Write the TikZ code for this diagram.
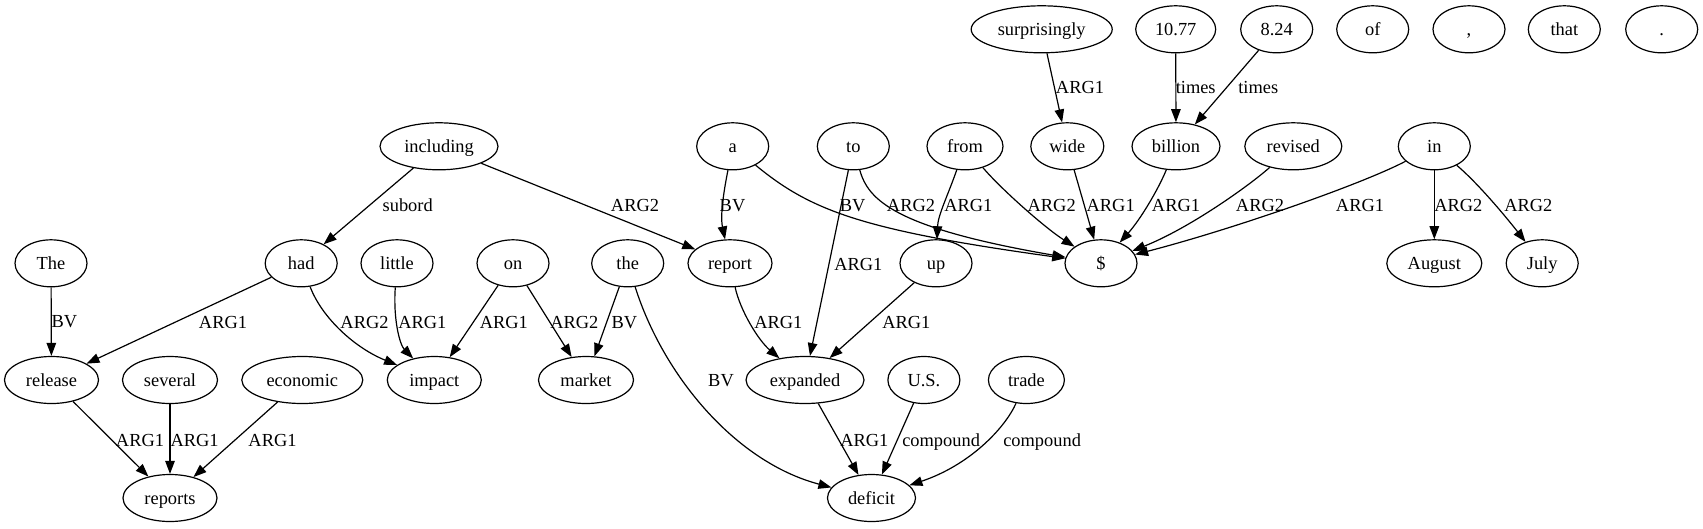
\documentclass[tikz,border=0pt]{standalone}
\usepackage{fontspec}
\setmainfont{Liberation Serif}
\usetikzlibrary{shapes.geometric,arrows.meta}
\tikzset{
  gfont/.style={font=\fontsize{18.4pt}{22pt}\selectfont},
  nd/.style={draw, ellipse, line width=1.2pt, inner sep=0pt, minimum width=72pt, minimum height=47pt, gfont, text height=12.5pt, text depth=0pt},
  lbl/.style={gfont, inner sep=0pt, anchor=base},
  edge/.style={draw, line width=1.2pt, -{Triangle[length=13pt,width=9.5pt]}}
}
\begin{document}
\begin{tikzpicture}[x=1pt,y=-1pt]
\useasboundingbox (0,0) rectangle (1703,528);
% row 1
\node[nd, minimum width=141pt] (surprisingly) at (1041.7,29.3) {surprisingly};
\node[nd, minimum width=80pt] (n1077) at (1175.7,29.3) {10.77};
\node[nd] (n824) at (1276.7,29.3) {8.24};
\node[nd] (of) at (1372.7,29.3) {of};
\node[nd] (comma) at (1469,29.3) {,};
\node[nd] (that) at (1564.3,29.3) {that};
\node[nd] (dot) at (1661.7,29.3) {.};
% row 2
\node[nd, minimum width=118pt] (including) at (439,146.3) {including};
\node[nd] (na) at (732.7,146.3) {a};
\node[nd] (nto) at (853.3,146.3) {to};
\node[nd, minimum width=76pt] (from) at (965,146.3) {from};
\node[nd, minimum width=73pt] (wide) at (1067.3,146.3) {wide};
\node[nd, minimum width=88pt] (billion) at (1176,146.3) {billion};
\node[nd, minimum width=97pt] (revised) at (1293.3,146.3) {revised};
\node[nd] (nin) at (1434.3,146.3) {in};
% row 3
\node[nd] (nThe) at (51,263.3) {The};
\node[nd] (had) at (301.2,263.3) {had};
\node[nd] (little) at (397,263.3) {little};
\node[nd] (non) at (513,263.3) {on};
\node[nd] (nthe) at (627.7,263.3) {the};
\node[nd, minimum width=84pt] (report) at (730,263.3) {report};
\node[nd] (up) at (936,263.3) {up};
\node[nd] (dollar) at (1101,263.3) {\$};
\node[nd, minimum width=95pt] (August) at (1434.3,263.3) {August};
\node[nd] (July) at (1542.2,263.3) {July};
% row 4
\node[nd, minimum width=94pt] (release) at (51.5,380) {release};
\node[nd, minimum width=95pt] (several) at (170,380) {several};
\node[nd, minimum width=121pt] (economic) at (302.3,380) {economic};
\node[nd, minimum width=94pt] (impact) at (434.3,380) {impact};
\node[nd, minimum width=95pt] (market) at (586,380) {market};
\node[nd, minimum width=118pt] (expanded) at (805,380) {expanded};
\node[nd] (US) at (923.9,380) {U.S.};
\node[nd, minimum width=76pt] (trade) at (1026.4,380) {trade};
% row 5
\node[nd, minimum width=94pt] (reports) at (170,498) {reports};
\node[nd, minimum width=88pt] (deficit) at (871.5,498) {deficit};
% edges
\draw[edge] (nThe) -- (release);
\draw[edge] (including) -- (had);
\draw[edge] (including) -- (report);
\draw[edge] (had) -- (release);
\draw[edge] (had) .. controls (322,318) and (355,348) .. (impact);
\draw[edge] (little) .. controls (393,320) and (400,345) .. (impact);
\draw[edge] (non) -- (impact);
\draw[edge] (non) -- (market);
\draw[edge] (nthe) -- (market);
\draw[edge] (nthe) .. controls (663,375) and (735,462) .. (deficit);
\draw[edge] (na) .. controls (724,190) and (720,215) .. (report);
\draw[edge] (na) .. controls (810,210) and (860,230) .. (dollar);
\draw[edge] (nto) -- (expanded);
\draw[edge] (nto) .. controls (868,200) and (895,228) .. (dollar);
\draw[edge] (from) .. controls (948,195) and (938,215) .. (up);
\draw[edge] (from) .. controls (1000,188) and (1045,228) .. (dollar);
\draw[edge] (wide) -- (dollar);
\draw[edge] (surprisingly) -- (wide);
\draw[edge] (n1077) -- (billion);
\draw[edge] (n824) -- (billion);
\draw[edge] (billion) .. controls (1158,190) and (1140,220) .. (dollar);
\draw[edge] (revised) .. controls (1250,185) and (1190,228) .. (dollar);
\draw[edge] (nin) .. controls (1360,185) and (1230,230) .. (dollar);
\draw[edge] (nin) -- (August);
\draw[edge] (nin) .. controls (1480,185) and (1510,222) .. (July);
\draw[edge] (report) .. controls (740,310) and (758,340) .. (expanded);
\draw[edge] (up) -- (expanded);
\draw[edge] (expanded) -- (deficit);
\draw[edge] (US) -- (deficit);
\draw[edge] (trade) .. controls (1005,428) and (970,465) .. (deficit);
\draw[edge] (release) -- (reports);
\draw[edge] (several) -- (reports);
\draw[edge] (economic) -- (reports);
% labels
\node[lbl] (l1) at (64.5,327.7) {BV};
\node[lbl] (l2) at (407.7,211) {subord};
\node[lbl] (l3) at (635,211) {ARG2};
\node[lbl] (l4) at (223,328) {ARG1};
\node[lbl] (l5) at (364.5,328) {ARG2};
\node[lbl] (l6) at (422.3,328) {ARG1};
\node[lbl] (l7) at (503.8,328) {ARG1};
\node[lbl] (l8) at (574.4,328) {ARG2};
\node[lbl] (l9) at (624.5,328) {BV};
\node[lbl] (l10) at (721,386) {BV};
\node[lbl] (l11) at (732.5,211) {BV};
\node[lbl] (l12) at (852.7,211) {BV};
\node[lbl] (l13) at (911,211) {ARG2};
\node[lbl] (l14) at (858.3,270) {ARG1};
\node[lbl] (l15) at (968.3,211) {ARG1};
\node[lbl] (l16) at (1051.7,211) {ARG2};
\node[lbl] (l17) at (1110.7,211) {ARG1};
\node[lbl] (l18) at (1080,93.7) {ARG1};
\node[lbl] (l19) at (1195.7,93.7) {times};
\node[lbl] (l20) at (1258.3,93.7) {times};
\node[lbl] (l21) at (1176,211) {ARG1};
\node[lbl] (l22) at (1260,211) {ARG2};
\node[lbl] (l23) at (1360,211) {ARG1};
\node[lbl] (l24) at (1458.3,211) {ARG2};
\node[lbl] (l25) at (1528.3,211) {ARG2};
\node[lbl] (l26) at (778.3,328) {ARG1};
\node[lbl] (l27) at (906.3,328) {ARG1};
\node[lbl] (l28) at (864.4,446) {ARG1};
\node[lbl] (l29) at (941.1,446) {compound};
\node[lbl] (l30) at (1042.1,446) {compound};
\node[lbl] (l31) at (140,446) {ARG1};
\node[lbl] (l32) at (194.6,446) {ARG1};
\node[lbl] (l33) at (272.5,446) {ARG1};
\end{tikzpicture}
\end{document}
